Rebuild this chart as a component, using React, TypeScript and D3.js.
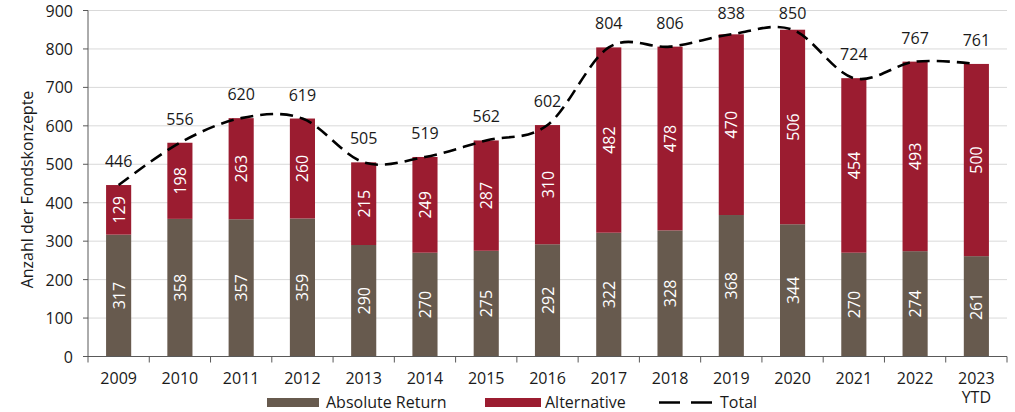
import React from "react";
import * as d3 from "d3";

const categories = ["2009","2010","2011","2012","2013","2014","2015","2016","2017","2018","2019","2020","2021","2022","2023\nYTD"];
const absoluteReturn = [317,358,357,359,290,270,275,292,322,328,368,344,270,274,261];
const alternative = [129,198,263,260,215,249,287,310,482,478,470,506,454,493,500];
const total = [446,556,620,619,505,519,562,602,804,806,838,850,724,767,761];
const yTicks = [0,100,200,300,400,500,600,700,800,900];

const W = 1015, H = 412;
const left = 88, right = 1007, top = 10.5, bottom = 356.5;
const C_AR = "#675a4e";
const C_ALT = "#9b1c30";
const FONT = "'Open Sans', Lato, sans-serif";
const FS = 16;

export default function App() {
  const x = d3.scaleBand<string>().domain(categories).range([left, right]).paddingInner(0.59).paddingOuter(0.295);
  const y = d3.scaleLinear().domain([0, 900]).range([bottom, top]);
  const step = x.step();
  const bw = x.bandwidth();
  const cx = (c: string) => (x(c) as number) + bw / 2;
  const line = d3.line<number>().x((_, i) => cx(categories[i])).y(d => y(d)).curve(d3.curveCatmullRom.alpha(0));
  const boundaries = d3.range(categories.length + 1).map(i => left + i * step);

  return (
    <svg width={W} height={H} style={{ position: "absolute", left: 0, top: 0 }} fontFamily={FONT}>
      <rect width={W} height={H} fill="#fff" />
      {yTicks.filter(t => t > 0).map(t => (
        <line key={t} x1={left} x2={right} y1={y(t)} y2={y(t)} stroke="#d9d9d9" strokeWidth={1} />
      ))}
      {categories.map((c, i) => {
        const x0 = x(c) as number;
        const yA = y(absoluteReturn[i]);
        const yT = y(absoluteReturn[i] + alternative[i]);
        return (
          <g key={c}>
            <rect x={x0} y={yA} width={bw} height={bottom - yA} fill={C_AR} />
            <rect x={x0} y={yT} width={bw} height={yA - yT} fill={C_ALT} />
            <text transform={`translate(${cx(c)},${(bottom + yA) / 2}) rotate(-90)`} textAnchor="middle" dominantBaseline="central" fill="#fff" fontSize={FS}>{absoluteReturn[i]}</text>
            <text transform={`translate(${cx(c)},${(yA + yT) / 2}) rotate(-90)`} textAnchor="middle" dominantBaseline="central" fill="#fff" fontSize={FS}>{alternative[i]}</text>
          </g>
        );
      })}
      <path d={line(total) as string} fill="none" stroke="#000" strokeWidth={2.6} strokeDasharray="13,7" />
      {categories.map((c, i) => (
        <text key={"t" + c} x={cx(c)} y={Math.max(y(total[i]) - 18, 18.5)} textAnchor="middle" fill="#1a1a1a" fontSize={FS}>{total[i]}</text>
      ))}
      <line x1={left} x2={left} y1={top} y2={bottom} stroke="#595959" strokeWidth={1} />
      <line x1={left} x2={right} y1={bottom} y2={bottom} stroke="#595959" strokeWidth={1} />
      {yTicks.map(t => (
        <g key={"y" + t}>
          <line x1={left - 5} x2={left} y1={y(t)} y2={y(t)} stroke="#595959" />
          <text x={73} y={y(t)} textAnchor="end" dominantBaseline="central" fill="#1a1a1a" fontSize={FS}>{t}</text>
        </g>
      ))}
      {boundaries.map((b, i) => (
        <line key={"b" + i} x1={b} x2={b} y1={bottom} y2={bottom + 6} stroke="#595959" />
      ))}
      {categories.map(c => (
        <text key={"x" + c} x={cx(c)} y={384} textAnchor="middle" fill="#1a1a1a" fontSize={FS}>
          {c.split("\n").map((s, j) => (
            <tspan key={j} x={cx(c)} dy={j === 0 ? 0 : 19}>{s}</tspan>
          ))}
        </text>
      ))}
      <text transform={`translate(33,${(top + bottom) / 2 + 6}) rotate(-90)`} textAnchor="middle" fill="#1a1a1a" fontSize={FS}>Anzahl der Fondskonzepte</text>
      <g>
        <rect x={267} y={398} width={52} height={9} fill={C_AR} />
        <text x={326} y={408} fill="#1a1a1a" fontSize={FS}>Absolute Return</text>
        <rect x={485} y={398} width={56} height={9} fill={C_ALT} />
        <text x={545} y={408} fill="#1a1a1a" fontSize={FS}>Alternative</text>
        <line x1={659} x2={712} y1={402.5} y2={402.5} stroke="#000" strokeWidth={2.6} strokeDasharray="21,11" />
        <text x={720} y={408} fill="#1a1a1a" fontSize={FS}>Total</text>
      </g>
    </svg>
  );
}
